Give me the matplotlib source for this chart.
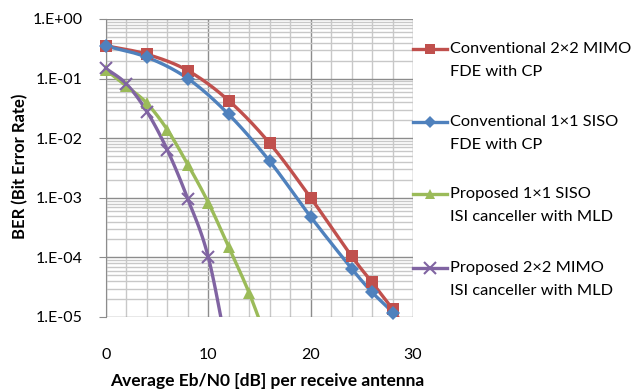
import numpy as np
import matplotlib
matplotlib.use("Agg")
import matplotlib.pyplot as plt
from matplotlib.lines import Line2D

plt.rcParams['font.family'] = ['Lato', 'DejaVu Sans']

# values (Eb/N0 in dB, BER)
ebn0_conv = [0, 4, 8, 12, 16, 20, 24, 26, 28, 30]
ber_mimo_cp = [0.356, 0.256, 0.136, 0.0426, 0.0082, 0.001, 1.05e-4, 3.8e-5, 1.35e-5, 4e-6]
ber_siso_cp = [0.352, 0.228, 0.1, 0.025, 0.0041, 4.8e-4, 6.5e-5, 2.6e-5, 1.15e-5, 3e-6]

ebn0_prop_siso = [0, 2, 4, 6, 8, 10, 12, 14, 16]
ber_prop_siso = [0.139, 0.075, 0.0385, 0.0138, 0.0036, 8.3e-4, 1.48e-4, 2.5e-5, 3e-6]

ebn0_prop_mimo = [0, 2, 4, 6, 8, 10, 12]
ber_prop_mimo = [0.148, 0.081, 0.0279, 0.0063, 9.5e-4, 1.0e-4, 2e-6]

labels = [("Conventional 2\u00d72 MIMO", "FDE with CP"),
          ("Conventional 1\u00d71 SISO", "FDE with CP"),
          ("Proposed 1\u00d71 SISO", "ISI canceller with MLD"),
          ("Proposed 2\u00d72 MIMO", "ISI canceller with MLD")]
colors = ["#C0504D", "#4F81BD", "#9BBB59", "#8064A2"]
markers = ["s", "D", "^", "x"]


def smooth(x, y, n=20):
    # catmull-rom through the points, in log space (like Excel's smoothed line)
    x = np.asarray(x, float)
    ly = np.log10(y)
    px = np.concatenate([[2 * x[0] - x[1]], x, [2 * x[-1] - x[-2]]])
    py = np.concatenate([[2 * ly[0] - ly[1]], ly, [2 * ly[-1] - ly[-2]]])
    xs, ys = [], []
    t = np.linspace(0, 1, n)
    for i in range(1, len(px) - 2):
        for p, out in ((px, xs), (py, ys)):
            p0, p1, p2, p3 = p[i - 1], p[i], p[i + 1], p[i + 2]
            out.extend(0.5 * (2 * p1 + (-p0 + p2) * t
                              + (2 * p0 - 5 * p1 + 4 * p2 - p3) * t ** 2
                              + (-p0 + 3 * p1 - 3 * p2 + p3) * t ** 3))
    return np.array(xs), 10 ** np.array(ys)


W, H = 637, 389
fig = plt.figure(figsize=(W / 100, H / 100), dpi=100)
ax = fig.add_axes([106 / W, 1 - 317 / H, 307 / W, 298 / H])

series = [(ebn0_conv, ber_mimo_cp), (ebn0_conv, ber_siso_cp),
          (ebn0_prop_siso, ber_prop_siso), (ebn0_prop_mimo, ber_prop_mimo)]
sizes = [8, 7, 8, 9]
for (x, y), c, m, s in zip(series, colors, markers, sizes):
    sx, sy = smooth(x, y)
    ax.plot(sx, sy, color=c, lw=2.4, zorder=3)
    ym = np.ma.masked_less(np.array(y), 1e-5)
    ax.plot(x, ym, ls='none', marker=m, ms=s, color=c,
            mew=1.5 if m == 'x' else 0, zorder=4, clip_on=False)

ax.set_yscale('log')
ax.set_xlim(0, 30)
ax.set_ylim(1e-5, 1)
ax.set_yticks([1, 1e-1, 1e-2, 1e-3, 1e-4, 1e-5])
ax.set_yticklabels(["1.E+00", "1.E-01", "1.E-02", "1.E-03", "1.E-04", "1.E-05"])
ax.set_xticks([0, 10, 20, 30])
ax.set_xticks(np.arange(0, 31, 2), minor=True)
ax.grid(True, which='major', color='#8c8c8c', lw=1)
ax.grid(True, which='minor', color='#c8c8c8', lw=1)
ax.set_axisbelow(True)
for side in ['top', 'right', 'bottom']:
    ax.spines[side].set_visible(False)
ax.spines['left'].set_color('#8c8c8c')
ax.tick_params(axis='y', which='major', length=5, color='#8c8c8c', labelsize=11.5, pad=12)
ax.tick_params(axis='y', which='minor', length=0)
ax.tick_params(axis='x', which='both', length=0, labelsize=11.5, pad=22)

fig.text(20 / W, 1 - 166 / H, "BER (Bit Error Rate)", rotation=90,
         ha='center', va='center', fontsize=12, fontweight='bold')
fig.text(267 / W, 1 - 381 / H, "Average Eb/N0 [dB] per receive antenna",
         ha='center', va='center', fontsize=12.5, fontweight='bold')

# legend drawn by hand, two text lines per entry
entry_y = [49, 122, 194, 268]
for yy, c, m, s, (l1, l2) in zip(entry_y, colors, markers, sizes, labels):
    fig.add_artist(Line2D([413 / W, 447 / W], [1 - yy / H] * 2, color=c, lw=2.4))
    fig.add_artist(Line2D([430 / W], [1 - yy / H], color=c, marker=m, ms=s - 1,
                          mew=1.5 if m == 'x' else 0))
    fig.text(450 / W, 1 - yy / H, l1, ha='left', va='center', fontsize=11.8)
    fig.text(450 / W, 1 - (yy + 23) / H, l2, ha='left', va='center', fontsize=11.8)

fig.savefig("out.png", dpi=100)
